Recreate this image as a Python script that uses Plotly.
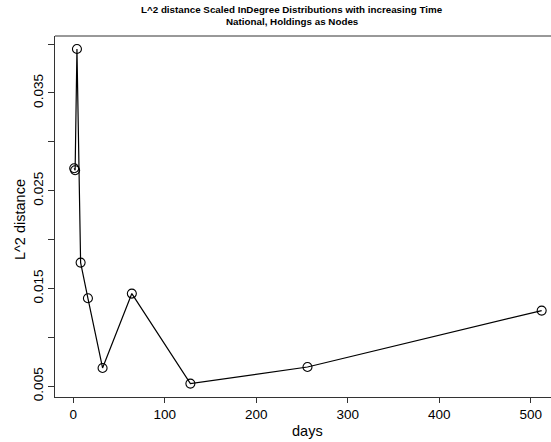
import plotly.graph_objects as go

days = [1, 2, 4, 8, 16, 32, 64, 128, 256, 512]
l2_distance = [0.0273, 0.0271, 0.0395, 0.01765, 0.0140, 0.00687, 0.01448, 0.00527, 0.00697, 0.01274]

x_ticks = [0, 100, 200, 300, 400, 500]
y_ticks = [0.005, 0.010, 0.015, 0.020, 0.025, 0.030, 0.035, 0.040]
y_ticktext = ["0.005", "", "0.015", "", "0.025", "", "0.035", ""]

title_line1 = "L^2 distance Scaled InDegree Distributions with increasing Time"
title_line2 = "National, Holdings as Nodes"

FONT = "Liberation Sans, Arial, sans-serif"
AX = "#333333"

fig = go.Figure()
fig.add_trace(go.Scatter(
    x=days, y=l2_distance, mode="lines+markers",
    line=dict(color="black", width=1.2),
    marker=dict(symbol="circle-open", size=9, color="black", line=dict(width=1.1)),
    showlegend=False, cliponaxis=False,
))

fig.update_layout(
    width=551, height=442,
    margin=dict(l=55, r=0, t=36, b=45),
    paper_bgcolor="white", plot_bgcolor="white",
    font=dict(family=FONT, size=13.5, color="black"),
    xaxis=dict(range=[-20.0, 522.2], tickvals=x_ticks, ticks="outside", ticklen=5,
               tickcolor=AX, showline=True, linecolor=AX, linewidth=1,
               showgrid=False, zeroline=False, tickfont=dict(size=13.5, family=FONT)),
    yaxis=dict(range=[0.0039, 0.04083], tickvals=y_ticks, ticktext=y_ticktext,
               ticks="outside", ticklen=6, tickcolor=AX, tickangle=-90,
               showline=True, linecolor=AX, linewidth=1,
               showgrid=False, zeroline=False, tickfont=dict(size=13.5, family=FONT)),
    shapes=[dict(type="line", xref="paper", yref="paper", x0=0, x1=1, y0=1, y1=1,
                 line=dict(color=AX, width=1))],
    annotations=[
        dict(text="<b>" + title_line1 + "</b>", xref="paper", yref="paper",
             x=(292 - 55) / 496, y=1 + 27 / 361, xanchor="center", yanchor="middle",
             showarrow=False, font=dict(size=9.8, family=FONT)),
        dict(text="<b>" + title_line2 + "</b>", xref="paper", yref="paper",
             x=(292 - 55) / 496, y=1 + 14 / 361, xanchor="center", yanchor="middle",
             showarrow=False, font=dict(size=9.8, family=FONT)),
        dict(text="days", xref="paper", yref="paper",
             x=(307 - 55) / 496, y=(397 - 431) / 361, xanchor="center", yanchor="middle",
             showarrow=False, font=dict(size=14.5, family=FONT)),
        dict(text="L^2 distance", xref="paper", yref="paper", textangle=-90,
             x=(20 - 55) / 496, y=(397 - 220) / 361, xanchor="center", yanchor="middle",
             showarrow=False, font=dict(size=14.5, family=FONT)),
    ],
)

fig.write_html("out.html")
